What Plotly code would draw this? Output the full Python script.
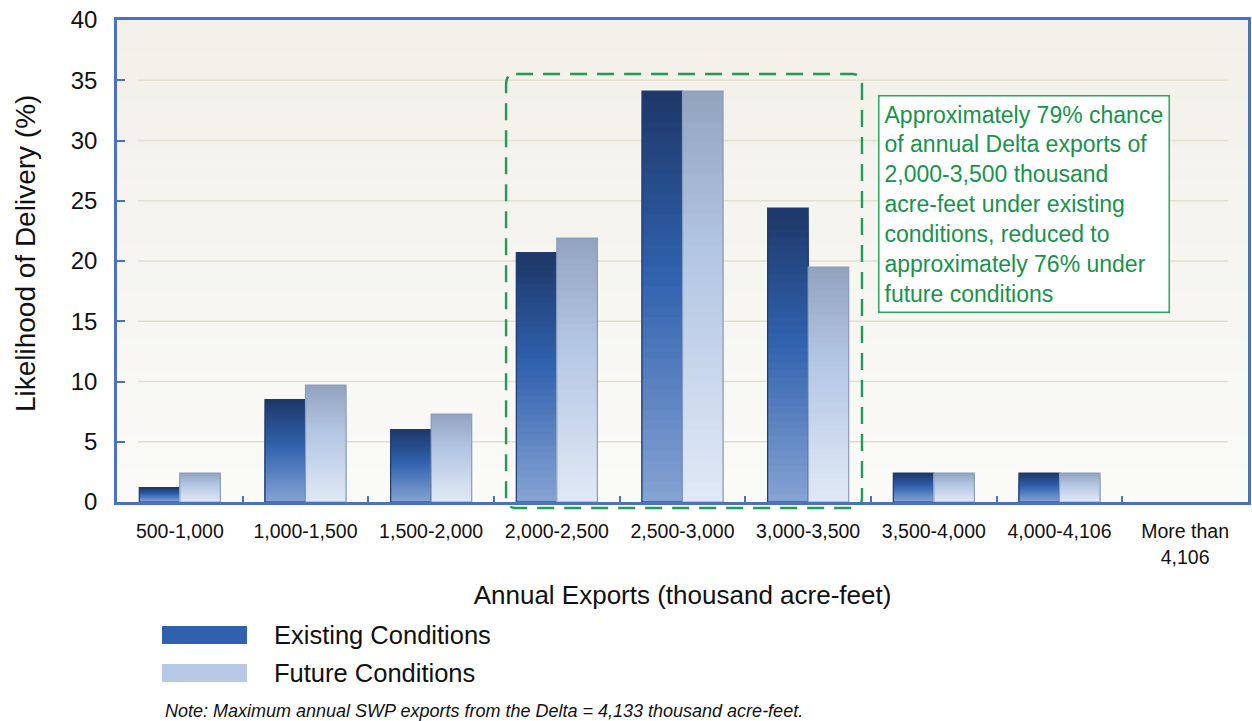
import plotly.graph_objects as go

# ---------------- data ----------------
categories = ["500-1,000", "1,000-1,500", "1,500-2,000", "2,000-2,500", "2,500-3,000",
              "3,000-3,500", "3,500-4,000", "4,000-4,106", "More than<br>4,106"]
existing = [1.2, 8.5, 6.0, 20.7, 34.1, 24.4, 2.4, 2.4, 0]
future = [2.4, 9.7, 7.3, 21.9, 34.1, 19.5, 2.4, 2.4, 0]
series_names = ["Existing Conditions", "Future Conditions"]
y_ticks = [0, 5, 10, 15, 20, 25, 30, 35, 40]
note_text = "Note: Maximum annual SWP exports from the Delta = 4,133 thousand acre-feet."
callout_text = ("Approximately 79% chance<br>of annual Delta exports of<br>2,000-3,500 thousand<br>"
                "acre-feet under existing<br>conditions, reduced to<br>approximately 76% under<br>future conditions")

# ---------------- styling helpers ----------------
def hex2rgb(h):
    h = h.lstrip("#")
    return tuple(int(h[i:i + 2], 16) for i in (0, 2, 4))

def interp(stops, f):
    for (p0, c0), (p1, c1) in zip(stops[:-1], stops[1:]):
        if p0 <= f <= p1:
            t = 0 if p1 == p0 else (f - p0) / (p1 - p0)
            a, b = hex2rgb(c0), hex2rgb(c1)
            return "rgb(%d,%d,%d)" % tuple(round(a[i] + (b[i] - a[i]) * t) for i in range(3))
    return stops[-1][1]

grad_existing = [(0.0, "#1d3767"), (0.45, "#3062ae"), (1.0, "#86a3d3")]
grad_future = [(0.0, "#92a3be"), (0.4, "#b3c6e3"), (1.0, "#e1e9f6")]
outline_existing = "#1f3c72"
outline_future = "#8b9dbd"

N_SEG = 40
FONT = "Liberation Sans, Arial, sans-serif"

fig = go.Figure()

for name, vals, grad, outline, grp in [
    (series_names[0], existing, grad_existing, outline_existing, "e"),
    (series_names[1], future, grad_future, outline_future, "f"),
]:
    # gradient: overlapping bars from the baseline, tallest first, so no seams show
    for k in range(N_SEG - 1, -1, -1):
        f_from_top = 1 - (k + 0.5) / N_SEG
        fig.add_trace(go.Bar(
            x=categories,
            y=[v * (k + 1) / N_SEG for v in vals],
            offsetgroup=grp,
            marker=dict(color=interp(grad, f_from_top), line=dict(width=0)),
            showlegend=False, hoverinfo="skip",
        ))
    fig.add_trace(go.Bar(
        x=categories, y=vals, name=name, offsetgroup=grp,
        marker=dict(color="rgba(0,0,0,0)",
                    line=dict(color=outline, width=[1.2 if v > 0 else 0 for v in vals])),
        showlegend=False,
    ))

shapes = []
bg = [(0.0, "#f2f0e8"), (1.0, "#fafaf8")]
NB = 30
for i in range(NB):
    shapes.append(dict(type="rect", xref="paper", yref="paper",
                       x0=0, x1=1, y0=1 - (i + 1) / NB, y1=1 - i / NB,
                       fillcolor=interp(bg, (i + 0.5) / NB), line=dict(width=0), layer="below"))
for v in y_ticks[1:-1]:
    shapes.append(dict(type="line", xref="paper", yref="y", x0=0.0186, x1=0.982, y0=v, y1=v,
                       line=dict(color="#e3dfcd", width=1.6), layer="below"))

# dashed rounded highlight box (paper coords)
x0, x1, y0, y1 = 0.344, 0.6587, -0.0124, 0.888
rx, ry = 10 / 1131, 10 / 482
path = (f"M {x0+rx},{y1} L {x1-rx},{y1} Q {x1},{y1} {x1},{y1-ry} "
        f"L {x1},{y0+ry} Q {x1},{y0} {x1-rx},{y0} L {x0+rx},{y0} "
        f"Q {x0},{y0} {x0},{y0+ry} L {x0},{y1-ry} Q {x0},{y1} {x0+rx},{y1} Z")
shapes.append(dict(type="path", xref="paper", yref="paper", path=path,
                   line=dict(color="#23995a", width=2.4, dash="17px,10px"), layer="above"))

# legend swatches
shapes.append(dict(type="rect", xref="paper", yref="paper", x0=0.0398, x1=0.1149, y0=-0.2946, y1=-0.2573,
                   fillcolor="#3060ae", line=dict(width=0)))
shapes.append(dict(type="rect", xref="paper", yref="paper", x0=0.0398, x1=0.1149, y0=-0.3734, y1=-0.3361,
                   fillcolor="#b7c9e6", line=dict(width=0)))

annotations = [
    dict(text=callout_text, xref="paper", yref="paper", x=0.6729, y=0.8444,
         xanchor="left", yanchor="top", align="left", showarrow=False,
         font=dict(family=FONT, size=23, color="#17934c"),
         bgcolor="#ffffff", bordercolor="#2fa062", borderwidth=1.5, borderpad=5),
    dict(text=series_names[0], xref="paper", yref="paper", x=0.137, y=-0.2759,
         xanchor="left", yanchor="middle", showarrow=False,
         font=dict(family=FONT, size=25.5, color="#111111")),
    dict(text=series_names[1], xref="paper", yref="paper", x=0.137, y=-0.3547,
         xanchor="left", yanchor="middle", showarrow=False,
         font=dict(family=FONT, size=25.5, color="#111111")),
    dict(text="<i>" + note_text + "</i>", xref="paper", yref="paper", x=0.0407, y=-0.4336,
         xanchor="left", yanchor="middle", showarrow=False,
         font=dict(family=FONT, size=18, color="#111111")),
    dict(text="Likelihood of Delivery (%)", xref="paper", yref="paper", x=-0.0815, y=0.516,
         xanchor="center", yanchor="middle", textangle=-90, showarrow=False,
         font=dict(family=FONT, size=28, color="#111111")),
]

fig.update_layout(
    width=1252, height=721,
    margin=dict(l=117, r=4, t=20, b=219),
    paper_bgcolor="#ffffff", plot_bgcolor="#f6f5f0",
    barmode="group", bargap=0.355, bargroupgap=0,
    shapes=shapes, annotations=annotations,
    showlegend=False,
    font=dict(family=FONT, color="#111111"),
)
fig.update_xaxes(
    type="category", showline=True, linecolor="#4a72bf", linewidth=2.5, mirror=True,
    ticks="inside", tickson="boundaries", ticklen=6, tickcolor="#4a72bf", tickwidth=1.5,
    showgrid=False, tickfont=dict(family=FONT, size=19.5, color="#111111"), tickangle=0,
    ticklabelstandoff=10, automargin=False, ticklabeloverflow="allow",
    title=dict(text="Annual Exports (thousand acre-feet)", standoff=20,
               font=dict(family=FONT, size=26, color="#111111")),
)
fig.update_yaxes(
    range=[0, 40], tickvals=y_ticks, showline=True, linecolor="#4a72bf", linewidth=2.5, mirror=True,
    ticks="inside", ticklen=8, tickcolor="#4a72bf", tickwidth=1.5, showgrid=False, zeroline=False,
    tickfont=dict(family=FONT, size=24, color="#111111"), ticklabelstandoff=12, automargin=False,
    ticklabeloverflow="allow",
)

# remove the browser's default 8px page margin so the 1252x721 figure fills the window exactly
fig.write_html("out.html",
               config={"displayModeBar": False},
               post_script="document.body.style.margin='0';document.body.style.overflow='hidden';")
